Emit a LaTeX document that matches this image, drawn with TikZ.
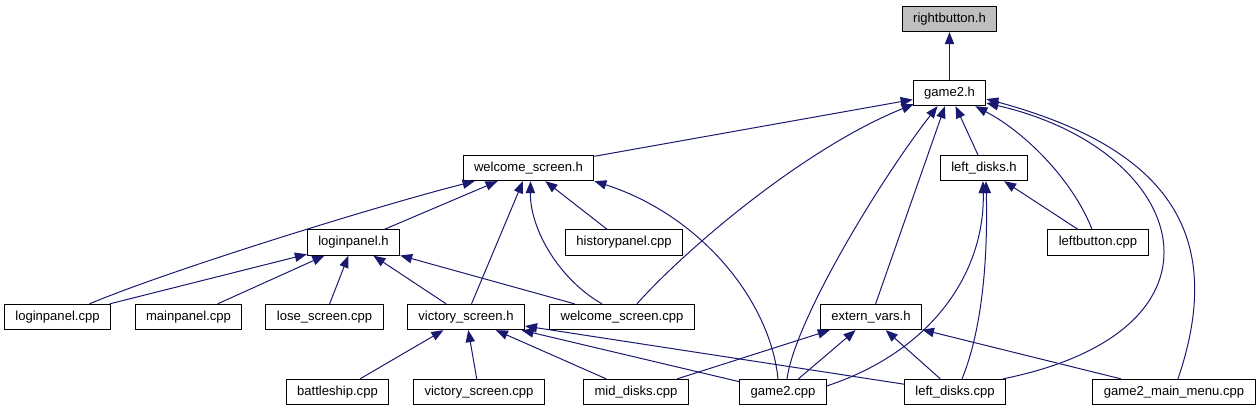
\documentclass[tikz,border=0pt]{standalone}
\usepackage{fontspec}
\setmainfont{Liberation Sans}
\usepackage{tikz}
\usetikzlibrary{arrows.meta,calc}
\definecolor{midnight}{HTML}{191970}
\definecolor{rootgray}{HTML}{BFBFBF}

\begin{document}
\begin{tikzpicture}[x=0.75pt, y=-0.75pt,
    filebox/.style={rectangle, draw=black, fill=white, line width=0.75pt, minimum height=19pt, inner xsep=8.2pt, inner ysep=0pt, text height=7pt, text depth=2pt, font=\fontsize{9.8}{12}\selectfont},
    rootfile/.style={filebox, fill=rootgray},
    dep/.style={draw=midnight, line width=0.75pt, -{Triangle[length=9pt, width=7pt]}}
]
    \useasboundingbox (0,0) rectangle (1259,411);

    % headers
    \node[rootfile] (rb) at (949.5,19) {rightbutton.h};
    \node[filebox] (g2h) at (949.5,93) {game2.h};
    \node[filebox] (wsh) at (528.5,168) {welcome\_screen.h};
    \node[filebox] (ldh) at (984,168) {left\_disks.h};
    \node[filebox] (lph) at (353.5,242.5) {loginpanel.h};
    \node[filebox] (vsh) at (466,317) {victory\_screen.h};
    \node[filebox] (evh) at (871,317) {extern\_vars.h};

    % sources
    \node[filebox] (hpc) at (624,242.5) {historypanel.cpp};
    \node[filebox] (lbc) at (1098,242.5) {leftbutton.cpp};
    \node[filebox] (lpc) at (57.5,317) {loginpanel.cpp};
    \node[filebox] (mpc) at (188.5,317) {mainpanel.cpp};
    \node[filebox] (lsc) at (324.5,317) {lose\_screen.cpp};
    \node[filebox] (wsc) at (622,317) {welcome\_screen.cpp};
    \node[filebox] (bsc) at (337.5,392) {battleship.cpp};
    \node[filebox] (vsc) at (479,392) {victory\_screen.cpp};
    \node[filebox] (mdc) at (636,392) {mid\_disks.cpp};
    \node[filebox] (g2c) at (783,392) {game2.cpp};
    \node[filebox] (ldc) at (955,392) {left\_disks.cpp};
    \node[filebox] (gmc) at (1174,392) {game2\_main\_menu.cpp};

    % includes of rightbutton.h and game2.h
    \draw[dep] (g2h) -- (rb);
    \draw[dep] (wsh) -- (g2h);
    \draw[dep] (ldh) -- (g2h);
    \draw[dep] (evh) -- (g2h);
    \draw[dep] ($(wsc.north)+(15,0)$) .. controls (680,255) and (800,150) .. ($(g2h.south west)+(1,-2)$);
    \draw[dep] ($(g2c.north)+(4,0)$) .. controls (795,320) and (880,180) .. ($(g2h.south)+(-12,0)$);
    \draw[dep] ($(lbc.north)+(-6,0)$) .. controls (1075,185) and (1030,135) .. ($(g2h.south east)+(-11,0)$);
    \draw[dep] ($(ldc.north east)+(-3,0)$) .. controls (1245,330) and (1190,150) .. ($(g2h.east)+(0,10)$);
    \draw[dep] ($(gmc.north)+(4,0)$) .. controls (1225,240) and (1175,150) .. ($(g2h.east)+(0,6)$);

    % includes of welcome_screen.h
    \draw[dep] (lph) -- (wsh);
    \draw[dep] (vsh) -- (wsh);
    \draw[dep] (hpc) -- (wsh);
    \draw[dep] ($(lpc.north)+(32,0)$) .. controls (170,270) and (380,205) .. ($(wsh.south west)+(12,0)$);
    \draw[dep] ($(wsc.north)+(-20,0)$) .. controls (560,280) and (530,230) .. ($(wsh.south)+(2,0)$);
    \draw[dep] ($(g2c.north)+(-5,0)$) .. controls (770,300) and (700,215) .. (wsh.south east);

    % includes of left_disks.h
    \draw[dep] (lbc) -- (ldh);
    \draw[dep] ($(g2c.east)+(0,-6)$) .. controls (935,350) and (985,270) .. ($(ldh.south)+(-1,0)$);
    \draw[dep] ($(ldc.north)+(7,0)$) .. controls (982,330) and (988,260) .. ($(ldh.south)+(2,0)$);

    % includes of loginpanel.h
    \draw[dep] (lpc) -- (lph);
    \draw[dep] (mpc) -- (lph);
    \draw[dep] (lsc) -- (lph);
    \draw[dep] (vsh) -- (lph);
    \draw[dep] (wsc) -- (lph);

    % includes of victory_screen.h
    \draw[dep] (bsc) -- (vsh);
    \draw[dep] (vsc) -- (vsh);
    \draw[dep] (mdc) -- (vsh);
    \draw[dep] (g2c) -- (vsh);
    \draw[dep] (ldc) -- (vsh);

    % includes of extern_vars.h
    \draw[dep] (mdc) -- (evh);
    \draw[dep] (g2c) -- (evh);
    \draw[dep] (ldc) -- (evh);
    \draw[dep] (gmc) -- (evh);
\end{tikzpicture}
\end{document}
